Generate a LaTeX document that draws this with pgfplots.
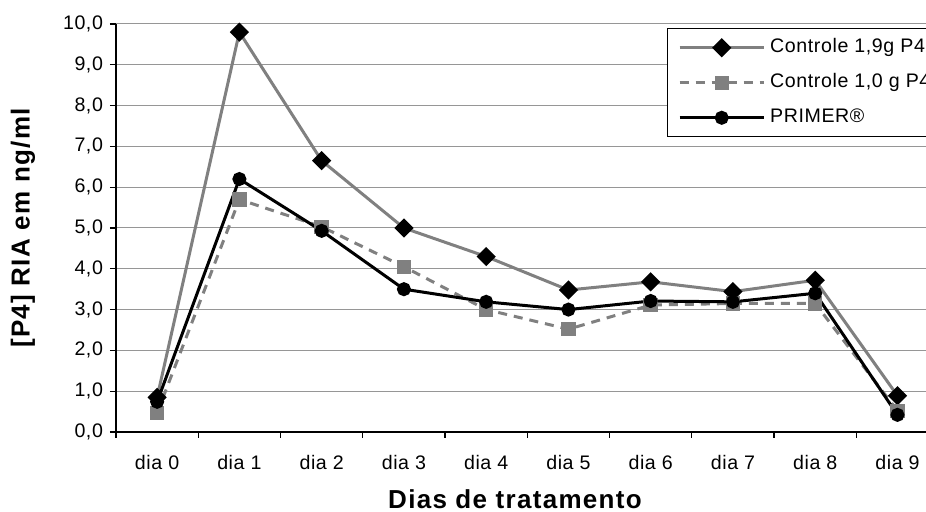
\documentclass[border=0pt]{standalone}
\usepackage{fontspec}
\setmainfont{Liberation Sans}
\newfontfamily\tickfont[LetterSpace=3]{Liberation Sans}
\newfontfamily\labelfont[LetterSpace=5]{Liberation Sans}
\usepackage{pgfplots}
\pgfplotsset{compat=1.18}
\definecolor{sgray}{RGB}{128,128,128}
\definecolor{ggray}{RGB}{150,150,150}

\begin{document}
\begin{tikzpicture}
\begin{axis}[
  scale only axis, width=411.3pt, height=204pt,
  xmin=-0.5, xmax=9.5, ymin=0, ymax=10,
  axis x line=bottom, axis y line=left,
  axis line style={-, black, line width=0.6pt},
  xtick={-0.5,0.5,1.5,2.5,3.5,4.5,5.5,6.5,7.5,8.5,9.5},
  x tick label as interval,
  xticklabels={dia 0,dia 1,dia 2,dia 3,dia 4,dia 5,dia 6,dia 7,dia 8,dia 9},
  ytick={0,1,2,3,4,5,6,7,8,9,10},
  tick align=outside, major tick length=3pt,
  tick style={black, line width=0.6pt},
  ymajorgrids, grid style={ggray, line width=0.5pt},
  ticklabel style={font=\fontsize{9.8}{11}\tickfont},
  xticklabel style={yshift=-5pt},
  yticklabel style={/pgf/number format/.cd, fixed, fixed zerofill, precision=1, use comma, assume math mode=true},
  ylabel={[P4] RIA em ng/ml},
  xlabel={Dias de tratamento},
  every axis y label/.style={at={(axis description cs:-0.1131,0.5)}, rotate=90, anchor=center, font=\fontsize{13}{15}\labelfont\bfseries},
  every axis x label/.style={at={(axis description cs:0.485,-0.187)}, anchor=base, font=\fontsize{13}{15}\labelfont\bfseries},
  legend style={at={(axis description cs:0.6695,0.9895)}, anchor=north west,
    draw=black, line width=0.5pt, fill=white, font=\fontsize{9.8}{11}\tickfont,
    inner xsep=5.5pt, inner ysep=5pt, row sep=8.5pt, column sep=2.5pt,
    nodes={inner sep=0pt, text height=7pt, text depth=2pt},
    cells={anchor=west}},
  legend image code/.code={\draw[mark repeat=2,mark phase=2,#1] plot coordinates {(0pt,0pt) (21pt,0pt) (42pt,0pt)};},
]
\addplot[sgray, line width=1.5pt, mark=square*, mark size=2.65pt,
  mark options={rotate=45, fill=black, draw=black, solid}]
  table {
x y
0 0.85
1 9.8
2 6.65
3 5.0
4 4.30
5 3.48
6 3.68
7 3.44
8 3.72
9 0.89
};
\addlegendentry{Controle 1,9g P4}
\addplot[sgray, line width=1.5pt, dash pattern=on 4.5pt off 3.5pt, mark=square*, mark size=2.85pt,
  mark options={fill=sgray, draw=sgray, solid}]
  table {
x y
0 0.47
1 5.70
2 5.03
3 4.05
4 3.00
5 2.52
6 3.11
7 3.15
8 3.15
9 0.52
};
\addlegendentry{Controle 1,0 g P4}
\addplot[black, line width=1.5pt, mark=*, mark size=2.75pt,
  mark options={fill=black, draw=black, solid}]
  table {
x y
0 0.74
1 6.20
2 4.93
3 3.50
4 3.19
5 3.00
6 3.21
7 3.19
8 3.40
9 0.42
};
\addlegendentry{PRIMER®}
\end{axis}
\pgfresetboundingbox
\useasboundingbox (-58pt,-40pt) rectangle (405pt,216pt);
\end{tikzpicture}
\end{document}
